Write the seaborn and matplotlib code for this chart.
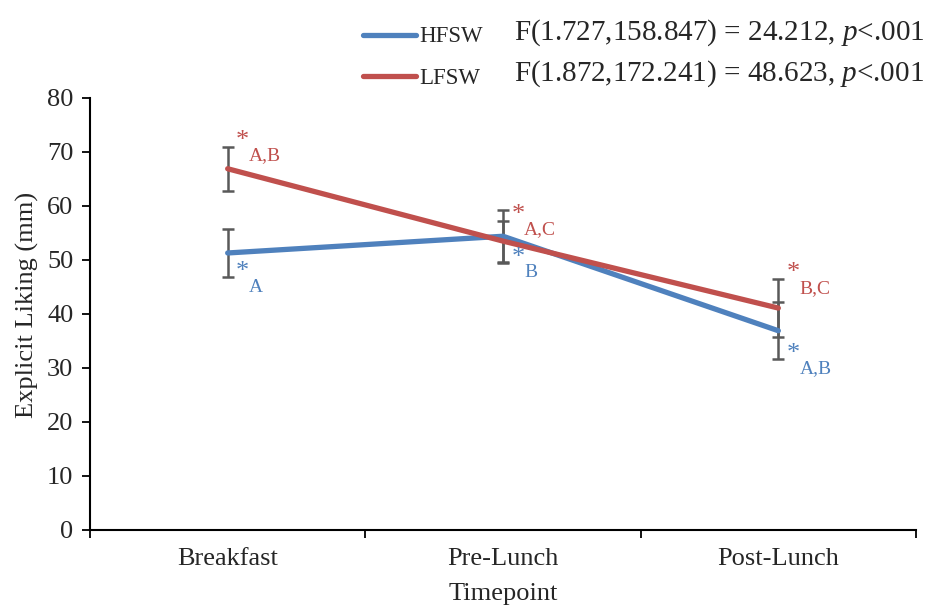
import numpy as np
import pandas as pd
import matplotlib
matplotlib.use("Agg")
import matplotlib.pyplot as plt
from matplotlib.lines import Line2D
from matplotlib.ticker import FixedLocator
import seaborn as sns

# Data
timepoints = ["Breakfast", "Pre-Lunch", "Post-Lunch"]
hfsw_mean = [51.3, 54.4, 36.9]
hfsw_err = [4.5, 4.9, 5.25]
lfsw_mean = [66.9, 53.5, 41.1]
lfsw_err = [4.1, 3.8, 5.3]
groups = ["HFSW", "LFSW"]
colors = {"HFSW": "#4F81BD", "LFSW": "#C0504D"}
stats = ["F(1.727,158.847) = 24.212, $\\mathit{p}$<.001",
         "F(1.872,172.241) = 48.623, $\\mathit{p}$<.001"]
hfsw_marks = ["A", "B", "A,B"]
lfsw_marks = ["A,B", "A,C", "B,C"]

df = pd.DataFrame({
    "Timepoint": timepoints * 2,
    "Liking": hfsw_mean + lfsw_mean,
    "Err": hfsw_err + lfsw_err,
    "Group": ["HFSW"] * 3 + ["LFSW"] * 3,
})

sns.set_theme(style="white")
plt.rcParams["font.family"] = ["Liberation Serif", "DejaVu Serif"]
plt.rcParams["mathtext.fontset"] = "custom"
plt.rcParams["mathtext.rm"] = "Liberation Serif"
plt.rcParams["mathtext.it"] = "Liberation Serif:italic"

W, H = 930, 608
fig = plt.figure(figsize=(W / 100, H / 100), dpi=100)
ax = fig.add_axes([90 / W, 1 - 530 / H, (916 - 90) / W, (530 - 98) / H])

xpos = {t: i for i, t in enumerate(timepoints)}

# error bars behind the lines
for g in groups:
    sub = df[df["Group"] == g]
    ax.errorbar([xpos[t] for t in sub["Timepoint"]], sub["Liking"], yerr=sub["Err"],
                fmt="none", ecolor="#595959", elinewidth=1.8, capsize=4.5,
                capthick=1.8, zorder=2)

sns.lineplot(data=df, x="Timepoint", y="Liking", hue="Group", palette=colors,
             linewidth=3.8, ax=ax, legend=False, zorder=3,
             solid_capstyle="round")

fs = 19
ax.set_xlim(-0.5, 2.5)
ax.set_ylim(0, 80)
ax.set_yticks(np.arange(0, 81, 10))
ax.set_xticks(range(3))
ax.set_xticklabels(timepoints)
ax.xaxis.set_minor_locator(FixedLocator([-0.5, 0.5, 1.5, 2.5]))
ax.tick_params(axis="x", which="major", length=0, pad=13, labelsize=fs)
ax.tick_params(axis="x", which="minor", length=6, width=1.3, direction="out",
               color="black", bottom=True)
ax.tick_params(axis="y", which="major", length=6, width=1.3, direction="out",
               color="black", left=True, labelsize=fs, pad=6)
for s in ["top", "right"]:
    ax.spines[s].set_visible(False)
for s in ["left", "bottom"]:
    ax.spines[s].set_color("black")
    ax.spines[s].set_linewidth(1.5)
ax.set_xlabel("Timepoint", fontsize=fs, labelpad=9)
ax.set_ylabel("Explicit Liking (mm)", fontsize=fs)
ax.yaxis.set_label_coords(-0.062, 0.52)

# significance markers
def mark(x, y, text, color, dx_star, dy_star, dx_txt, dy_txt):
    ax.annotate("*", (x, y), xytext=(dx_star, dy_star), textcoords="offset pixels",
                color=color, fontsize=19, ha="center", va="center")
    ax.annotate(text, (x, y), xytext=(dx_txt, dy_txt), textcoords="offset pixels",
                color=color, fontsize=14, ha="left", va="center")

for i, t in enumerate(timepoints):
    mark(i, lfsw_mean[i] + lfsw_err[i], lfsw_marks[i], colors["LFSW"], 15, 6, 21, -9)
    mark(i, hfsw_mean[i] - hfsw_err[i], hfsw_marks[i], colors["HFSW"], 15, 5, 21, -10)

# legend with statistics
for j, g in enumerate(groups):
    y = 1 - (35 + 41 * j) / H
    fig.add_artist(Line2D([363 / W, 416 / W], [y, y], color=colors[g], linewidth=3.8,
                          solid_capstyle="round", transform=fig.transFigure))
    fig.text(419 / W, y - 2 / H, g, fontsize=16.5, va="center", ha="left")
    fig.text(514 / W, y + 2 / H, stats[j], fontsize=21, va="center", ha="left")

fig.savefig("out.png", dpi=100)
